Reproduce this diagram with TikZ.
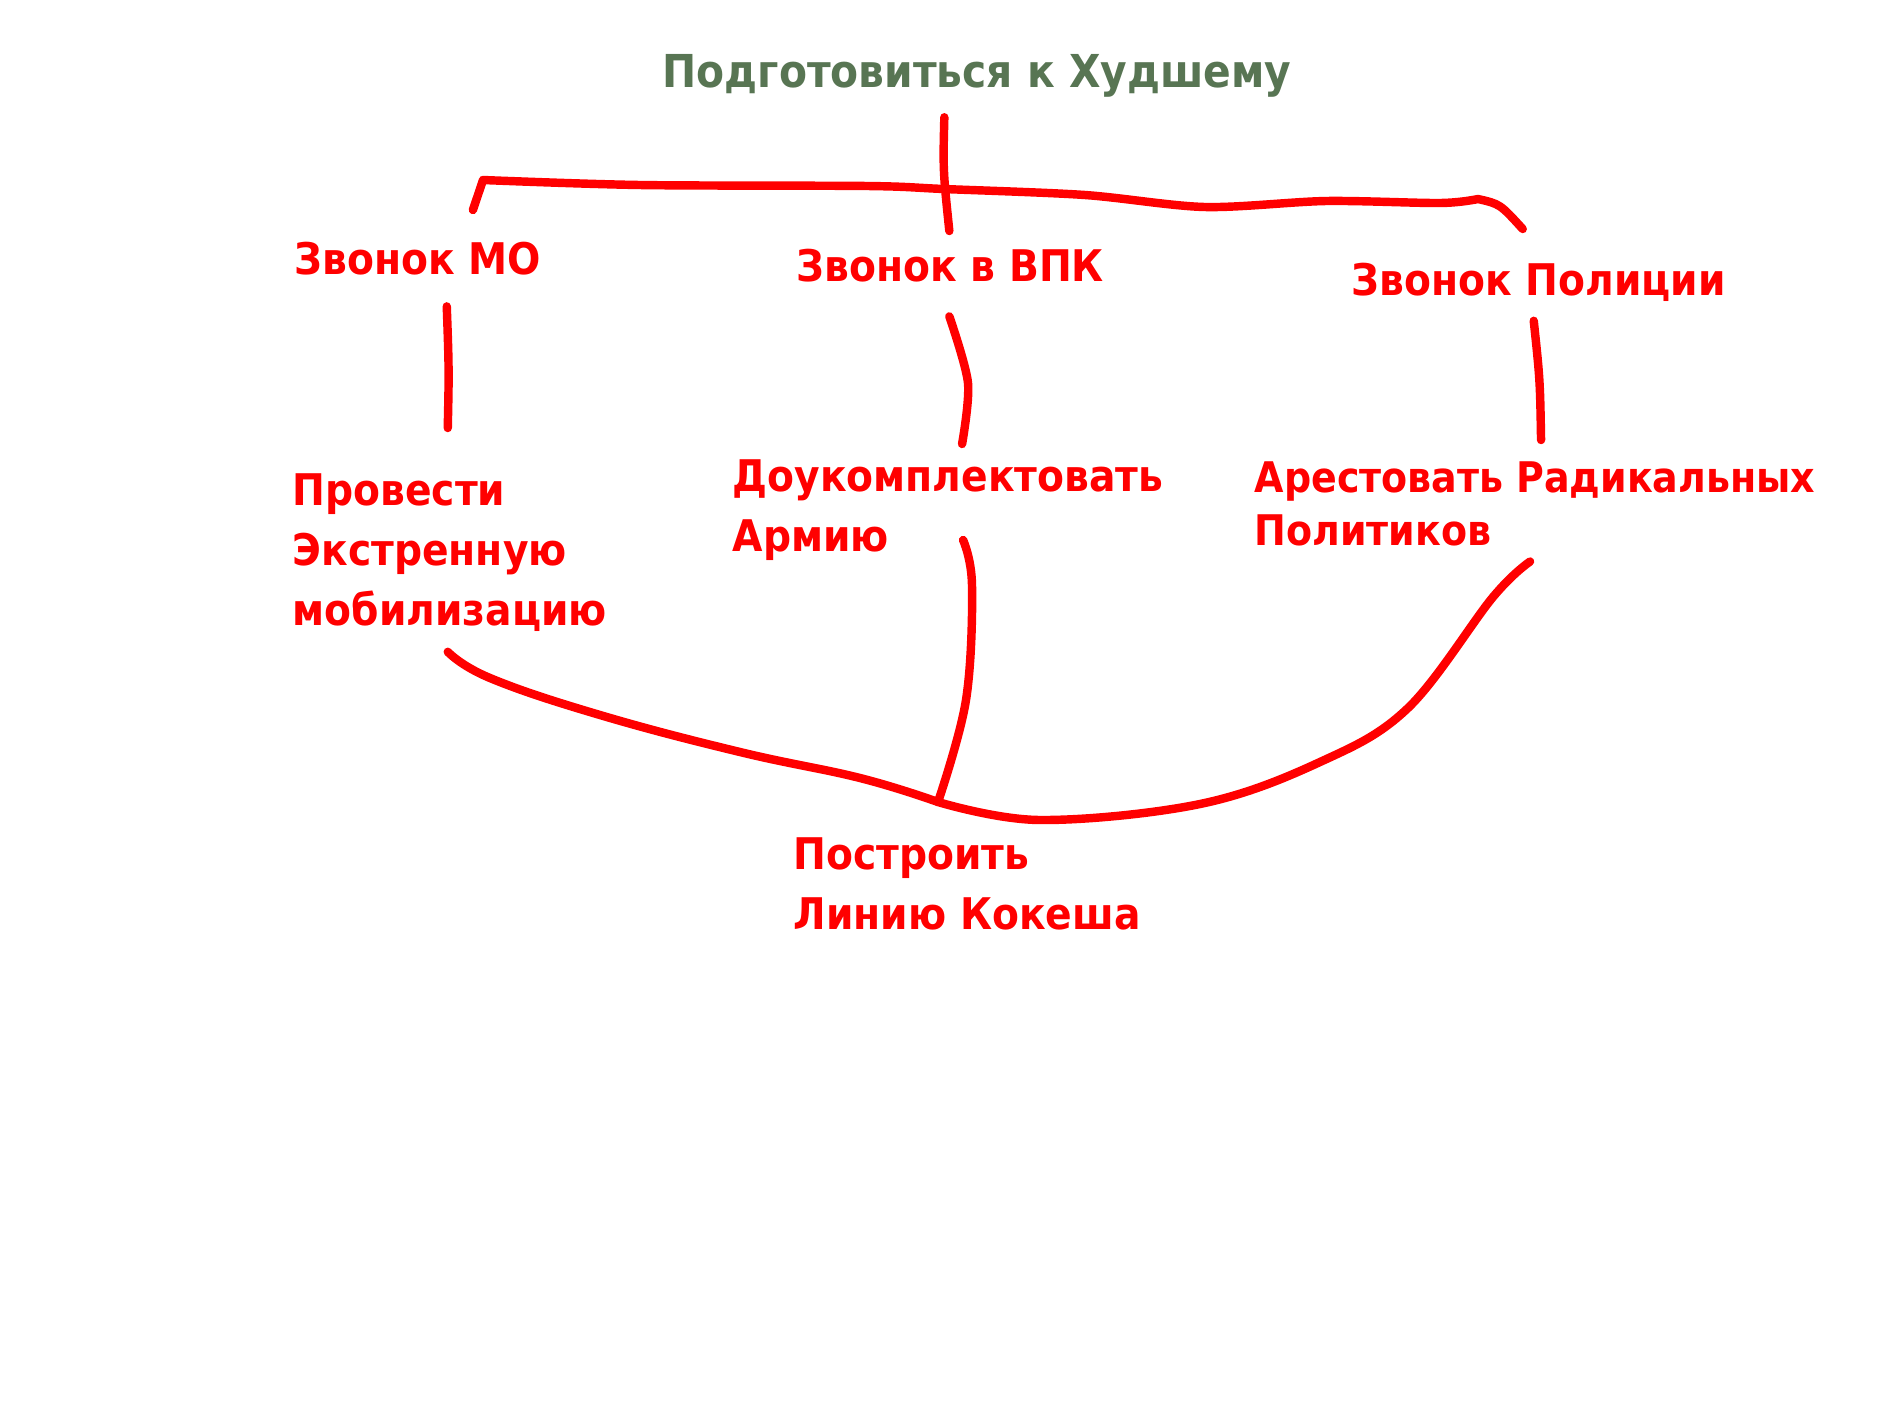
\documentclass[tikz,border=0pt]{standalone}
\usepackage{fontspec}
\setmainfont{DejaVu Sans Condensed}[BoldFont={DejaVu Sans Condensed Bold}]
\usetikzlibrary{calc,positioning}

\definecolor{moss}{RGB}{88,117,83}
\definecolor{alarm}{RGB}{255,0,0}

\tikzset{
  goal/.style={anchor=north west, inner sep=0pt, text=alarm, align=left,
    font=\bfseries\fontsize{12.4}{17}\selectfont},
  wire/.style={alarm, line width=2.4pt, line cap=round, line join=round},
}

\begin{document}
\begin{tikzpicture}[x=0.01cm,y=-0.01cm]
\useasboundingbox (0,0) rectangle (1890,1417);

% focus names
\node[goal, text=moss, font=\bfseries\fontsize{12.9}{17}\selectfont] (title) at (662,54) {Подготовиться к Худшему};
\node[goal] (mo) at (294,241) {Звонок МО};
\node[goal] (vpk) at (796,248) {Звонок в ВПК};
\node[goal] (pol) at (1351,262) {Звонок Полиции};
\node[goal] (mob) at (292,473) {Провести\\Экстренную\\мобилизацию};
\node[goal] (arm) at (732,459) {Доукомплектовать\\Армию};
\node[goal, font=\bfseries\fontsize{12}{15}\selectfont] (arest) at (1254,461) {Арестовать Радикальных\\Политиков};
\node[goal] (build) at (793,837) {Построить\\Линию Кокеша};

\coordinate (knot) at (938,802);

% top bar
\draw[wire] ($(title.south -| vpk.north)+(-6,19)$) .. controls (943,170) .. ($(vpk.north)+(-1,-17)$);
\draw[wire] ($(mo.north)+(55,-31)$) -- (483,180) -- plot[smooth, tension=.5] coordinates {(483,180) (640,185) (868,186) (944,189) (1085,195) (1205,207) (1326,201) (1440,203) (1478,199)} .. controls (1500,204) .. ($(pol.north)+(-16,-33)$);

% calls down to the next row
\draw[wire] ($(mo.south -| mob.north)+(-3,31)$) .. controls (449,370) .. ($(mob.north)+(-2,-45)$);
\draw[wire] plot[smooth] coordinates {($(vpk.south)+(-1,34)$) (968,383) ($(arm.north)+(14,-15)$)};
\draw[wire] ($(pol.south)+(-5,19)$) .. controls (1540,380) .. ($(arest.north)+(6,-21)$);

% all join at the line
\draw[wire] plot[smooth, tension=.7] coordinates {($(mob.south)+(-2,20)$) (490,678) (600,715) (740,752) (860,778) (knot)};
\draw[wire] plot[smooth, tension=.6] coordinates {($(arm.north)+(15,81)$) (972,585) (966,700) (knot)};
\draw[wire] plot[smooth, tension=.6] coordinates {(knot) (1040,820) (1200,804) (1320,762) (1408,708) (1493,597) ($(arest.south)+(-5,15)$)};

\end{tikzpicture}
\end{document}
